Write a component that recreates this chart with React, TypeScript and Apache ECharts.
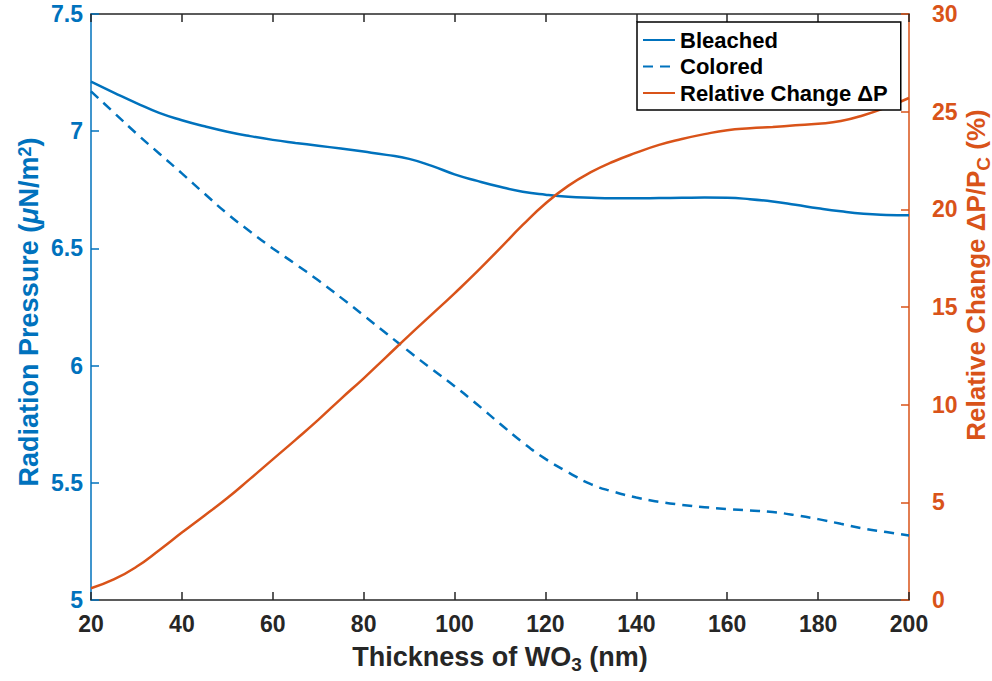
import React, { useEffect, useRef } from "react";
import * as echarts from "echarts";

const thickness = [20, 25, 30, 35, 40, 45, 50, 55, 60, 65, 70, 75, 80, 85, 90, 95, 100, 105, 110, 115, 120, 125, 130, 135, 140, 145, 150, 155, 160, 165, 170, 175, 180, 185, 190, 195, 200];
const bleached = [7.211, 7.165, 7.12, 7.078, 7.047, 7.021, 6.998, 6.979, 6.963, 6.95, 6.938, 6.926, 6.913, 6.899, 6.882, 6.852, 6.816, 6.788, 6.763, 6.742, 6.729, 6.72, 6.716, 6.714, 6.714, 6.715, 6.716, 6.717, 6.716, 6.71, 6.7, 6.686, 6.671, 6.658, 6.648, 6.643, 6.641];
const colored = [7.17, 7.08, 6.99, 6.905, 6.82, 6.733, 6.648, 6.572, 6.5, 6.433, 6.364, 6.29, 6.214, 6.137, 6.06, 5.985, 5.912, 5.834, 5.752, 5.672, 5.602, 5.545, 5.494, 5.462, 5.437, 5.419, 5.406, 5.396, 5.388, 5.382, 5.375, 5.362, 5.345, 5.325, 5.305, 5.29, 5.275];
const relChange = [0.6, 1.05, 1.7, 2.55, 3.45, 4.33, 5.22, 6.2, 7.2, 8.2, 9.22, 10.3, 11.35, 12.45, 13.55, 14.62, 15.7, 16.82, 18.0, 19.2, 20.3, 21.2, 21.9, 22.45, 22.9, 23.3, 23.6, 23.85, 24.05, 24.15, 24.22, 24.3, 24.38, 24.52, 24.82, 25.22, 25.7];

const seriesNames = ["Bleached", "Colored", "Relative Change \u0394P"];
const xTitle = "Thickness of WO{sub|3} (nm)";
const leftTitle = "Radiation Pressure ({mu|\u03bc}N/m{sup|2})";
const rightTitle = "Relative Change \u0394P/P{sub|C} (%)";

const BLUE = "#0072BD";
const ORANGE = "#D95319";
const FONT = "Liberation Sans, Arial, Helvetica, sans-serif";

export default function App() {
  const ref = useRef<HTMLDivElement>(null);
  useEffect(() => {
    if (!ref.current) return;
    const chart = echarts.init(ref.current, null, { renderer: "svg" });
    const pair = (ys: number[]) => thickness.map((x, i) => [x, ys[i]]);
    chart.setOption({
      animation: false,
      backgroundColor: "#fff",
      grid: { left: 91, right: 83, top: 14, bottom: 81 },
      legend: {
        orient: "vertical",
        left: 637,
        top: 22,
        backgroundColor: "#fff",
        borderColor: "#000",
        borderWidth: 1.5,
        padding: [7, 13, 6, 5],
        itemWidth: 32,
        itemHeight: 12,
        itemGap: 4.5,
        data: seriesNames,
        itemStyle: { opacity: 0, borderWidth: 0 },
        textStyle: { fontSize: 22, fontWeight: "bold", color: "#000", fontFamily: FONT, lineHeight: 22 },
      },
      xAxis: [
        {
          type: "value",
          min: 20,
          max: 200,
          interval: 20,
          position: "bottom",
          name: xTitle,
          nameLocation: "middle",
          nameGap: 40,
          nameTextStyle: {
            fontSize: 27,
            fontWeight: "bold",
            color: "#262626",
            fontFamily: FONT,
            lineHeight: 34,
            rich: {
              sub: { fontSize: 19, fontWeight: "bold", color: "#262626", fontFamily: FONT, verticalAlign: "bottom", lineHeight: 20, padding: [14, 0, 0, 0] },
            },
          },
          axisLine: { lineStyle: { color: "#262626", width: 1.5 } },
          axisTick: { inside: true, length: 8, lineStyle: { color: "#262626", width: 1.5 } },
          axisLabel: { fontSize: 23, fontWeight: "bold", color: "#262626", fontFamily: FONT, margin: 12 },
          splitLine: { show: false },
        },
        {
          type: "value",
          min: 20,
          max: 200,
          interval: 20,
          position: "top",
          axisLine: { lineStyle: { color: "#262626", width: 1.5 } },
          axisTick: { inside: true, length: 8, lineStyle: { color: "#262626", width: 1.5 } },
          axisLabel: { show: false },
          splitLine: { show: false },
        },
      ],
      yAxis: [
        {
          type: "value",
          min: 5,
          max: 7.5,
          interval: 0.5,
          position: "left",
          axisLine: { show: true, lineStyle: { color: BLUE, width: 1.5 } },
          axisTick: { show: true, inside: true, length: 8, lineStyle: { color: BLUE, width: 1.5 } },
          axisLabel: { fontSize: 23, fontWeight: "bold", color: BLUE, fontFamily: FONT, margin: 8 },
          splitLine: { show: false },
        },
        {
          type: "value",
          min: 0,
          max: 30,
          interval: 5,
          position: "right",
          axisLine: { show: true, lineStyle: { color: ORANGE, width: 1.5 } },
          axisTick: { show: true, inside: true, length: 8, lineStyle: { color: ORANGE, width: 1.5 } },
          axisLabel: { fontSize: 23, fontWeight: "bold", color: ORANGE, fontFamily: FONT, margin: 23 },
          splitLine: { show: false },
        },
      ],
      graphic: [
        {
          type: "text",
          x: 29,
          y: 312,
          rotation: Math.PI / 2,
          style: {
            text: leftTitle,
            fill: BLUE,
            font: `bold 27px ${FONT}`,
            align: "center",
            verticalAlign: "middle",
            rich: {
              mu: { fontSize: 27, fontWeight: "bold", fontStyle: "italic", fill: BLUE, fontFamily: FONT },
              sup: { fontSize: 18, fontWeight: "bold", fill: BLUE, fontFamily: FONT, verticalAlign: "top" },
            },
          },
        },
        {
          type: "text",
          x: 976,
          y: 275,
          rotation: Math.PI / 2,
          style: {
            text: rightTitle,
            fill: ORANGE,
            font: `bold 26px ${FONT}`,
            align: "center",
            verticalAlign: "middle",
            rich: {
              sub: { fontSize: 19, fontWeight: "bold", fill: ORANGE, fontFamily: FONT, verticalAlign: "bottom", padding: [14, 0, 0, 0] },
            },
          },
        },
      ],
      series: [
        {
          name: seriesNames[0],
          type: "line",
          xAxisIndex: 0,
          yAxisIndex: 0,
          data: pair(bleached),
          symbol: "none",
          smooth: 0.5,
          lineStyle: { color: BLUE, width: 2.5 },
          itemStyle: { color: BLUE },
        },
        {
          name: seriesNames[1],
          type: "line",
          xAxisIndex: 0,
          yAxisIndex: 0,
          data: pair(colored),
          symbol: "none",
          smooth: 0.5,
          lineStyle: { color: BLUE, width: 2.5, type: [10, 7] },
          itemStyle: { color: BLUE },
        },
        {
          name: seriesNames[2],
          type: "line",
          xAxisIndex: 0,
          yAxisIndex: 1,
          data: pair(relChange),
          symbol: "none",
          smooth: 0.5,
          lineStyle: { color: ORANGE, width: 2.5 },
          itemStyle: { color: ORANGE },
        },
      ],
    });
    return () => chart.dispose();
  }, []);
  return <div ref={ref} style={{ position: "fixed", left: 0, top: 0, width: 992, height: 681 }} />;
}
